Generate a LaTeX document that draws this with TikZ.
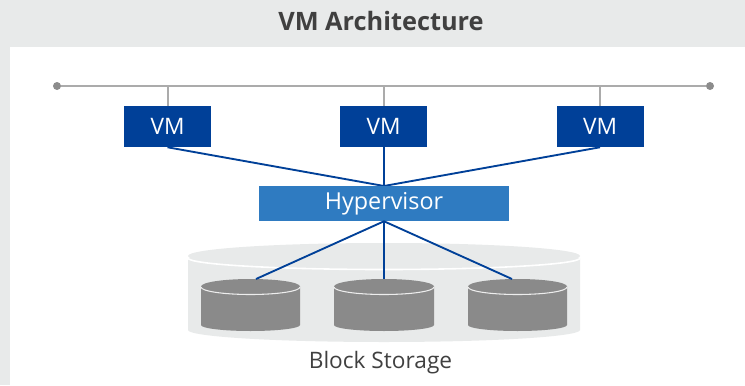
\documentclass[tikz,border=0pt]{standalone}
\usepackage{fontspec}
\setmainfont{Open Sans}
\definecolor{panel}{HTML}{E8EAEA}
\definecolor{vmblue}{HTML}{004098}
\definecolor{hvblue}{HTML}{2F7BC1}
\definecolor{disk}{HTML}{8A8A8A}
\definecolor{bus}{HTML}{ABABAB}
\definecolor{dot}{HTML}{8C8C8C}
\definecolor{ink}{HTML}{404040}
\tikzset{
  vmbox/.style={fill=vmblue,text=white,minimum width=65.25pt,minimum height=30.75pt,inner sep=0pt,font=\fontsize{17}{19}\selectfont},
  hvbox/.style={fill=hvblue,text=white,minimum width=187.5pt,minimum height=26.25pt,inner sep=0pt,font=\fontsize{17.5}{19}\selectfont},
  busdot/.style={circle,fill=dot,minimum size=6pt,inner sep=0pt},
  busline/.style={draw=bus,line width=1.2pt},
  link/.style={draw=vmblue,line width=1.4pt},
  diskedge/.style={draw=white!85!disk,line width=0.8pt},
}
\newcommand{\diskcyl}[2]{% left, right
  \fill[disk] (#1,286.5) arc[start angle=180,end angle=360,x radius={(#2-#1)/2},y radius=7.5] -- (#2,325) arc[start angle=0,end angle=180,x radius={(#2-#1)/2},y radius=6] -- cycle;
  \draw[diskedge] (#1,287) arc[start angle=180,end angle=0,x radius={(#2-#1)/2},y radius=7.5];
}
\begin{document}
\begin{tikzpicture}[x=0.75pt,y=-0.75pt]
\useasboundingbox (0,0) rectangle (745,385);
\fill[panel] (0,0) rectangle (745,385);
\fill[white] (10,47) rectangle (745,385);
\node[text=ink,font=\fontsize{19}{22}\selectfont\bfseries,inner sep=0pt] (title) at (381,21.5) {VM Architecture};
% bus
\node[busdot] (busL) at (57,86) {};
\node[busdot] (busR) at (710,86) {};
\draw[busline] (busL) -- (busR);
\coordinate (b1) at (168,86);
\coordinate (b2) at (384,86);
\coordinate (b3) at (600,86);
% big storage cylinder
\fill[panel] (188,258) -- (188,330) arc[start angle=180,end angle=0,x radius=196,y radius=12] -- (580,258) -- cycle;
\fill[panel] (384,256) ellipse[x radius=196,y radius=13];
\draw[white,line width=1.2pt] (188,258) arc[start angle=180,end angle=0,x radius=196,y radius=11.5];
% disks
\diskcyl{201}{300}
\diskcyl{334}{434}
\diskcyl{468}{567}
\coordinate (d1) at (256,279);
\coordinate (d2) at (384,279);
\coordinate (d3) at (512,279);
% nodes
\node[vmbox] (vm1) at (167.5,126.5) {VM};
\node[vmbox] (vm2) at (383.5,126.5) {VM};
\node[vmbox] (vm3) at (600,126.5) {VM};
\draw[busline] (b1) -- (vm1.north -| b1);
\draw[busline] (b2) -- (vm2.north -| b2);
\draw[busline] (b3) -- (vm3.north -| b3);
\coordinate (hvin) at (384,186);
\draw[link] (vm1.south) -- (hvin);
\draw[link] (384,147) -- (hvin);
\draw[link] (vm3.south) -- (hvin);
\node[hvbox] (hv) at (384,203.5) {\raisebox{-1pt}{Hypervisor}};
\draw[link] (hv.south) -- (d1);
\draw[link] (hv.south) -- (d2);
\draw[link] (hv.south) -- (d3);
\node[text=ink,font=\fontsize{17}{19}\selectfont,inner sep=0pt] (bs) at (380.5,363) {Block Storage};
\end{tikzpicture}
\end{document}
